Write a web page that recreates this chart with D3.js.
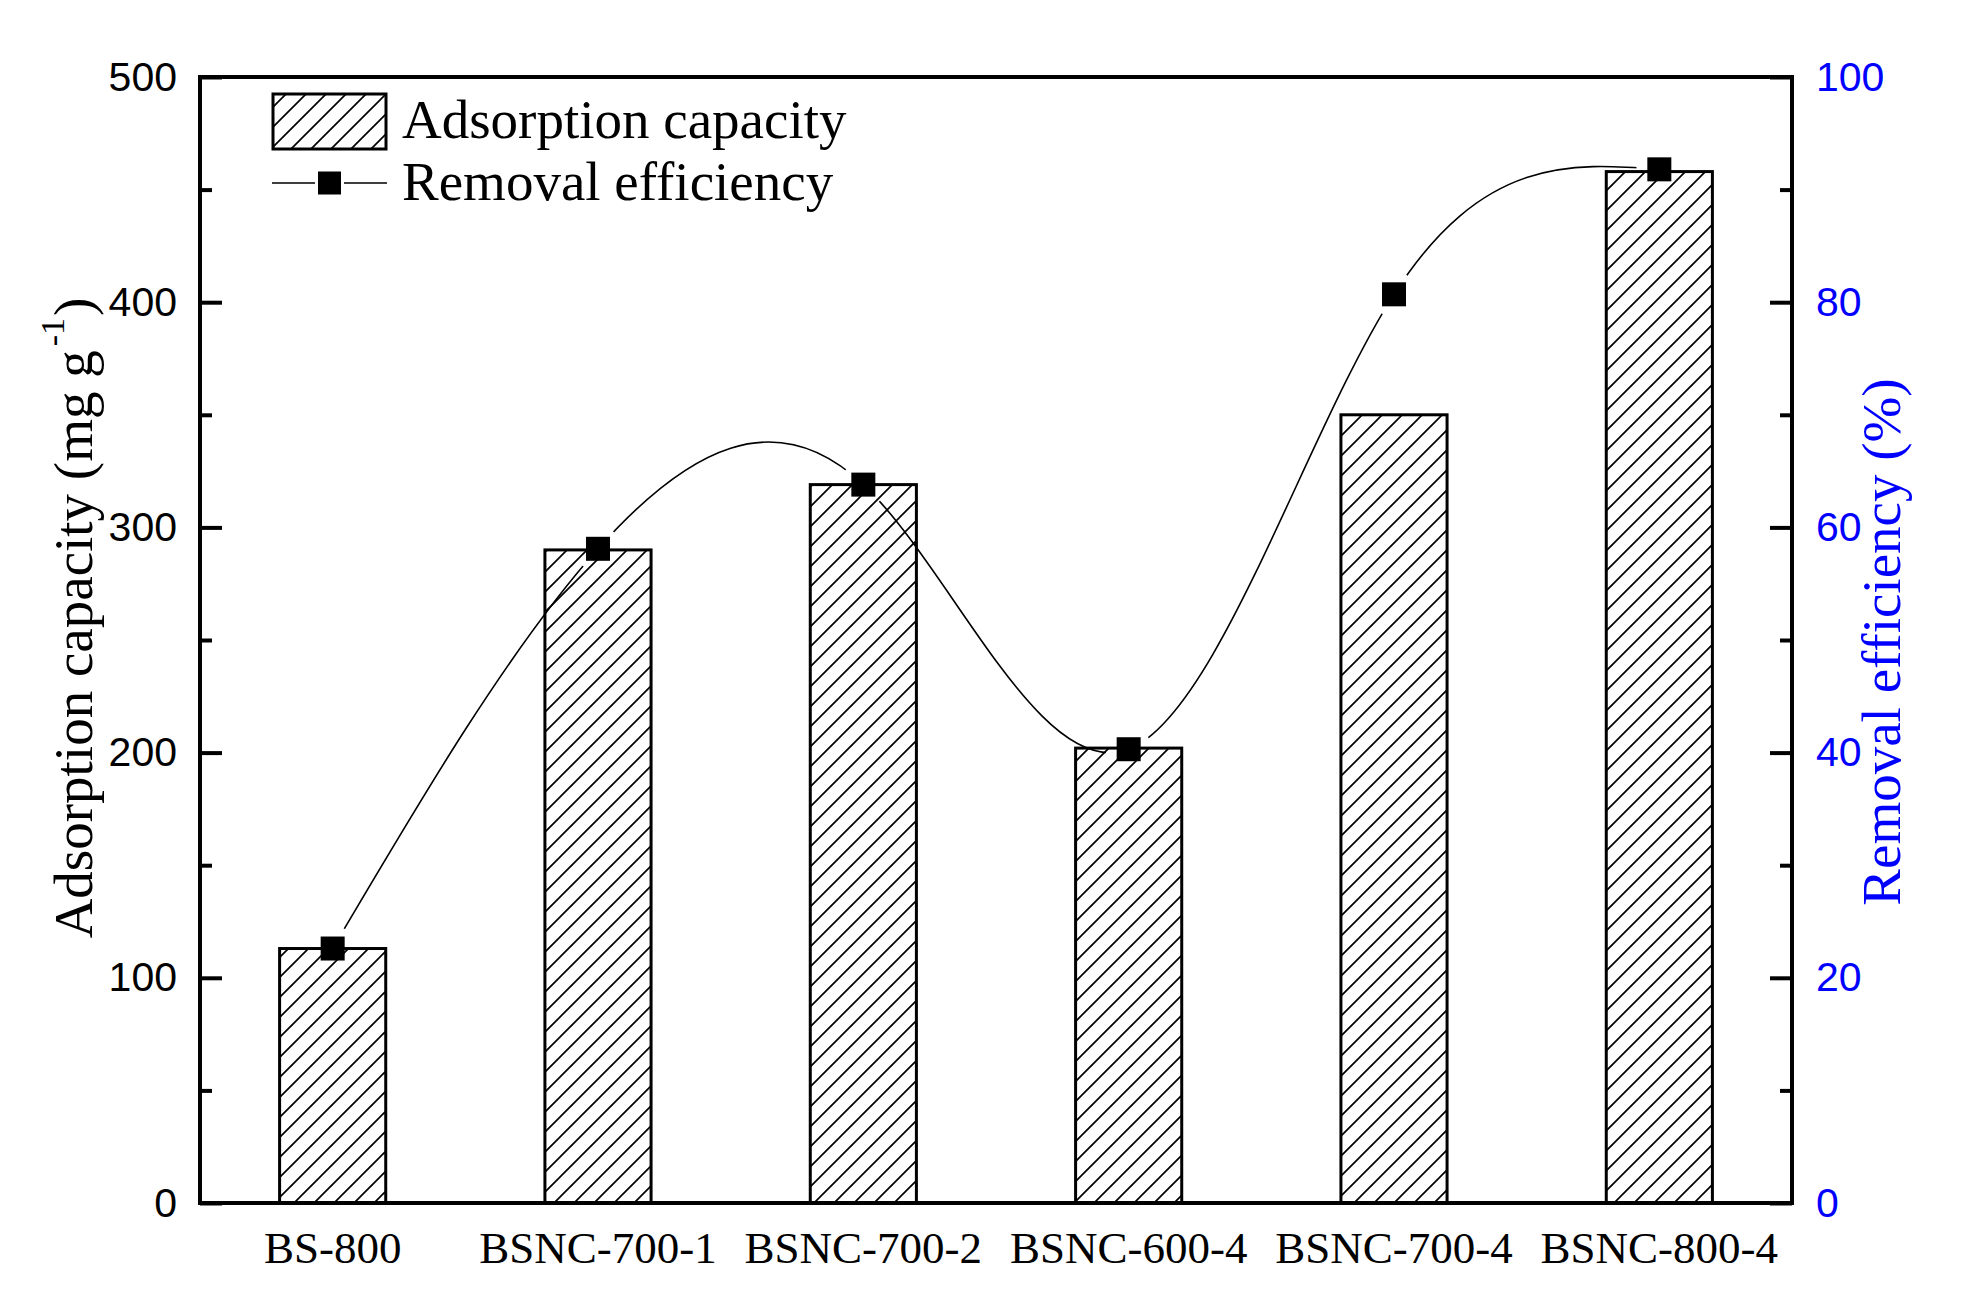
<!DOCTYPE html>
<html lang="en">
<head>
<meta charset="UTF-8">
<script src="https://d3js.org/d3.v7.min.js"></script>
<title>Adsorption capacity and removal efficiency</title>
<style>
  body { margin: 0; background: #fff; }
  svg { display: block; }
</style>
</head>
<body>
<div id="wrapper"></div>
<script>
// data
const categories = ["BS-800", "BSNC-700-1", "BSNC-700-2", "BSNC-600-4", "BSNC-700-4", "BSNC-800-4"];
const capacity = [113, 290, 319, 202, 350, 458];          // mg g-1, left axis
const efficiency = [22.6, 58.1, 63.8, 40.3, 80.7, 91.8];  // %, right axis
const leftTicks = [0, 100, 200, 300, 400, 500];
const leftMinor = [50, 150, 250, 350, 450];
const rightTicks = [0, 20, 40, 60, 80, 100];
const rightMinor = [10, 30, 50, 70, 90];

const serif = "'Liberation Serif', 'Times New Roman', Times, serif";
const sans = "'Liberation Sans', Arial, Helvetica, sans-serif";
const blue = "#0000ff";

const dimensions = {
  width: 1964,
  height: 1315,
  margin: { top: 77, right: 172, bottom: 112, left: 200 }
};
dimensions.boundedWidth = dimensions.width - dimensions.margin.left - dimensions.margin.right;
dimensions.boundedHeight = dimensions.height - dimensions.margin.top - dimensions.margin.bottom;

const svg = d3.select("#wrapper").append("svg")
  .attr("width", dimensions.width)
  .attr("height", dimensions.height);

svg.append("rect").attr("width", dimensions.width).attr("height", dimensions.height).attr("fill", "#fff");

const defs = svg.append("defs");

// hatch fill "///"
const hatch = defs.append("pattern")
  .attr("id", "hatch")
  .attr("patternUnits", "userSpaceOnUse")
  .attr("width", 20).attr("height", 20);
hatch.append("rect").attr("width", 20).attr("height", 20).attr("fill", "#fff");
hatch.append("path")
  .attr("d", "M-5,5 L5,-5 M0,20 L20,0 M15,25 L25,15")
  .attr("stroke", "#000").attr("stroke-width", 1.7);

const bounds = svg.append("g")
  .attr("transform", `translate(${dimensions.margin.left},${dimensions.margin.top})`);

// scales
const xScale = d3.scaleBand()
  .domain(categories)
  .range([0, dimensions.boundedWidth])
  .paddingInner(0).paddingOuter(0);
const barWidth = xScale.bandwidth() * 0.4;
const xCenter = d => xScale(d) + xScale.bandwidth() / 2;

const yScale = d3.scaleLinear().domain([0, 500]).range([dimensions.boundedHeight, 0]);
const y2Scale = d3.scaleLinear().domain([0, 100]).range([dimensions.boundedHeight, 0]);

// bars
bounds.selectAll(".bar")
  .data(categories)
  .join("rect")
    .attr("class", "bar")
    .attr("x", d => xCenter(d) - barWidth / 2)
    .attr("y", (d, i) => yScale(capacity[i]))
    .attr("width", barWidth)
    .attr("height", (d, i) => yScale(0) - yScale(capacity[i]))
    .attr("fill", "url(#hatch)")
    .attr("stroke", "#000")
    .attr("stroke-width", 3);

// spline with gaps round the symbols
const mask = defs.append("mask")
  .attr("id", "gapmask")
  .attr("maskUnits", "userSpaceOnUse")
  .attr("x", -300).attr("y", -200).attr("width", 2400).attr("height", 1600);
mask.append("rect")
  .attr("x", -300).attr("y", -200).attr("width", 2400).attr("height", 1600)
  .attr("fill", "#fff");
mask.selectAll("circle")
  .data(categories)
  .join("circle")
    .attr("cx", d => xCenter(d))
    .attr("cy", (d, i) => y2Scale(efficiency[i]))
    .attr("r", 23)
    .attr("fill", "#000");

const line = d3.line()
  .x(d => xCenter(d))
  .y((d, i) => y2Scale(efficiency[i]))
  .curve(d3.curveNatural);

bounds.append("path")
  .attr("d", line(categories))
  .attr("fill", "none")
  .attr("stroke", "#000")
  .attr("stroke-width", 1.6)
  .attr("mask", "url(#gapmask)");

const sym = 24;
bounds.selectAll(".sym")
  .data(categories)
  .join("rect")
    .attr("class", "sym")
    .attr("x", d => xCenter(d) - sym / 2)
    .attr("y", (d, i) => y2Scale(efficiency[i]) - sym / 2)
    .attr("width", sym).attr("height", sym)
    .attr("fill", "#000");

// axes
function styleAxis(g, color) {
  g.select(".domain").remove();
  g.selectAll(".tick line").attr("stroke", "#000").attr("stroke-width", 4);
  g.selectAll(".tick text").attr("fill", color);
}

const yAxis = bounds.append("g")
  .call(d3.axisLeft(yScale).tickValues(leftTicks).tickSize(-22).tickPadding(23))
  .attr("font-family", sans).attr("font-size", 41);
styleAxis(yAxis, "#000");
bounds.append("g")
  .call(d3.axisLeft(yScale).tickValues(leftMinor).tickSize(-12).tickFormat(""))
  .call(g => styleAxis(g, "#000"));

const y2Axis = bounds.append("g")
  .attr("transform", `translate(${dimensions.boundedWidth},0)`)
  .call(d3.axisRight(y2Scale).tickValues(rightTicks).tickSize(-22).tickPadding(24))
  .attr("font-family", sans).attr("font-size", 41);
styleAxis(y2Axis, blue);
bounds.append("g")
  .attr("transform", `translate(${dimensions.boundedWidth},0)`)
  .call(d3.axisRight(y2Scale).tickValues(rightMinor).tickSize(-12).tickFormat(""))
  .call(g => styleAxis(g, blue));

const xAxis = bounds.append("g")
  .attr("transform", `translate(0,${dimensions.boundedHeight})`)
  .call(d3.axisBottom(xScale).tickSize(0).tickPadding(28))
  .attr("font-family", serif).attr("font-size", 45);
styleAxis(xAxis, "#000");

// frame
bounds.append("rect")
  .attr("width", dimensions.boundedWidth)
  .attr("height", dimensions.boundedHeight)
  .attr("fill", "none")
  .attr("stroke", "#000")
  .attr("stroke-width", 4);

// axis titles
const yTitle = svg.append("text")
  .attr("transform", "translate(92,618) rotate(-90)")
  .attr("text-anchor", "middle")
  .attr("font-family", serif)
  .attr("font-size", 55)
  .attr("fill", "#000");
yTitle.append("tspan").text("Adsorption capacity (mg g");
yTitle.append("tspan").attr("font-size", 34).attr("dy", -28).attr("dx", 4).text("-1");
yTitle.append("tspan").attr("dy", 28).attr("dx", 2).text(")");

svg.append("text")
  .attr("transform", "translate(1900,642) rotate(-90)")
  .attr("text-anchor", "middle")
  .attr("font-family", serif)
  .attr("font-size", 55)
  .attr("fill", blue)
  .text("Removal efficiency (%)");

// legend
const legend = svg.append("g").attr("font-family", serif).attr("font-size", 55);
legend.append("rect")
  .attr("x", 273).attr("y", 94).attr("width", 113).attr("height", 55)
  .attr("fill", "url(#hatch)").attr("stroke", "#000").attr("stroke-width", 3);
legend.append("text").attr("x", 402).attr("y", 138).text("Adsorption capacity");
legend.append("path")
  .attr("d", "M272,183 H315 M344,183 H387")
  .attr("stroke", "#000").attr("stroke-width", 1.6);
legend.append("rect")
  .attr("x", 318).attr("y", 171.5).attr("width", 23).attr("height", 23)
  .attr("fill", "#000");
legend.append("text").attr("x", 402).attr("y", 200).text("Removal efficiency");
</script>
</body>
</html>
